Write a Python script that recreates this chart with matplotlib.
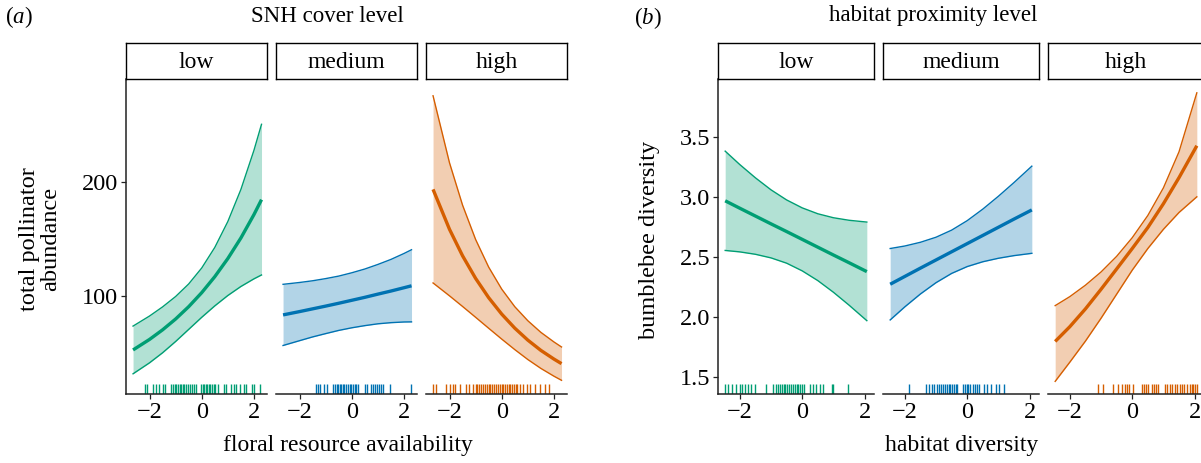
import matplotlib
matplotlib.use("Agg")
import matplotlib.pyplot as plt

plt.rcParams['font.family'] = ['Liberation Serif', 'DejaVu Serif']
plt.rcParams['mathtext.fontset'] = 'custom'
plt.rcParams['mathtext.it'] = 'Liberation Serif:italic'
plt.rcParams['mathtext.rm'] = 'Liberation Serif'

# ---------------- data ----------------
levels = ["low", "medium", "high"]
colors = ["#009E73", "#0072B2", "#D55E00"]

# panel (a): floral resource availability -> total pollinator abundance
xa = [-2.63, -2, -1.5, -1, -0.5, 0, 0.5, 1, 1.5, 2, 2.29]
a_low_mean = [52.6, 61.8, 70.2, 79.7, 90.5, 102.8, 116.8, 132.7, 150.7, 171.2, 184.3]
a_low_upper = [73.5, 82.3, 90.3, 99.4, 110.4, 124.4, 142.4, 165.1, 193.2, 227.5, 250.3]
a_low_lower = [31.7, 41.3, 50.1, 60.0, 70.6, 81.2, 91.2, 100.3, 108.2, 114.9, 118.3]
a_med_mean = [83.3, 86.2, 88.6, 91.0, 93.5, 96.1, 98.7, 101.5, 104.2, 107.1, 108.8]
a_med_upper = [110.1, 111.7, 113.2, 115.1, 117.3, 120.2, 123.5, 127.5, 131.9, 137.1, 140.4]
a_med_lower = [56.5, 60.7, 64.0, 66.9, 69.7, 72.0, 73.9, 75.5, 76.5, 77.1, 77.2]
a_high_mean = [193.3, 158.3, 135.1, 115.3, 98.4, 84.0, 71.7, 61.2, 52.2, 44.6, 40.6]
a_high_upper = [275.3, 216.6, 179.5, 149.4, 125.2, 105.9, 90.5, 78.2, 68.0, 59.6, 55.2]
a_high_lower = [111.3, 100.0, 90.7, 81.2, 71.6, 62.1, 52.9, 44.2, 36.4, 29.6, 26.0]

rug_a_low = [-2.18, -2.09, -1.88, -1.76, -1.63, -1.48, -1.41, -1.16, -1.1, -1.03, -0.97,
             -0.9, -0.84, -0.78, -0.72, -0.66, -0.6, -0.52, -0.45, -0.38, -0.3, -0.22,
             -0.01, 0.04, 0.1, 0.15, 0.2, 0.27, 0.33, 0.4, 0.46, 0.5, 0.62, 0.84, 0.94,
             1.11, 1.22, 1.33, 1.45, 1.6, 1.71, 1.94, 2.02, 2.24]
rug_a_med = [-1.37, -1.29, -1.2, -1.07, -0.93, -0.71, -0.64, -0.58, -0.52, -0.46, -0.4,
             -0.35, -0.28, -0.22, -0.15, -0.08, -0.02, 0.05, 0.12, 0.18, 0.24, 0.5, 0.6,
             0.75, 0.82, 0.9, 0.97, 1.05, 1.12, 1.2, 1.45, 2.28]
rug_a_high = [-2.65, -2.5, -2.12, -1.99, -1.87, -1.8, -1.61, -1.35, -1.25, -1.1, -1.0,
              -0.93, -0.86, -0.79, -0.72, -0.65, -0.58, -0.5, -0.43, -0.36, -0.3, -0.22,
              -0.15, -0.08, 0.0, 0.05, 0.12, 0.19, 0.26, 0.33, 0.4, 0.47, 0.54, 0.6, 0.69,
              0.82, 0.95, 1.07, 1.26, 1.46, 1.65, 1.8]

# panel (b): habitat diversity -> bumblebee diversity
xb = [-2.47, -2, -1.5, -1, -0.5, 0, 0.5, 1, 1.5, 2.07]
b_low_mean = [2.967, 2.905, 2.840, 2.775, 2.711, 2.646, 2.581, 2.516, 2.452, 2.378]
b_low_upper = [3.380, 3.268, 3.158, 3.058, 2.974, 2.908, 2.859, 2.826, 2.805, 2.790]
b_low_lower = [2.554, 2.542, 2.522, 2.492, 2.448, 2.384, 2.303, 2.206, 2.099, 1.970]
b_med_mean = [2.273, 2.338, 2.407, 2.475, 2.543, 2.611, 2.679, 2.747, 2.815, 2.891]
b_med_upper = [2.570, 2.591, 2.622, 2.664, 2.723, 2.802, 2.898, 3.005, 3.119, 3.255]
b_med_lower = [1.976, 2.085, 2.192, 2.286, 2.363, 2.420, 2.460, 2.489, 2.511, 2.530]
b_high_mean = [1.797, 1.920, 2.068, 2.231, 2.400, 2.570, 2.745, 2.943, 3.160, 3.425]
b_high_upper = [2.095, 2.17, 2.265, 2.375, 2.505, 2.66, 2.845, 3.075, 3.375, 3.865]
b_high_lower = [1.465, 1.625, 1.80, 1.99, 2.19, 2.39, 2.57, 2.73, 2.87, 3.0]

rug_b_low = [-2.49, -2.38, -2.24, -2.13, -2.0, -1.92, -1.83, -1.73, -1.65, -1.52, -1.16,
             -0.95, -0.84, -0.78, -0.72, -0.66, -0.6, -0.54, -0.48, -0.42, -0.36, -0.3,
             -0.24, -0.18, -0.12, -0.06, 0.0, 0.05, 0.24, 0.34, 0.45, 0.58, 0.67, 0.94,
             0.97, 1.47]
rug_b_med = [-1.87, -1.31, -1.22, -1.14, -1.07, -0.96, -0.9, -0.84, -0.78, -0.72, -0.66,
             -0.6, -0.54, -0.48, -0.42, -0.37, -0.32, -0.14, -0.08, -0.02, 0.04, 0.1,
             0.17, 0.24, 0.3, 0.37, 0.53, 0.64, 0.75, 0.91, 1.01, 1.17]
rug_b_high = [-1.11, -0.93, -0.61, -0.47, -0.34, -0.24, -0.17, -0.11, 0.03, 0.3, 0.37,
              0.44, 0.51, 0.62, 0.69, 0.76, 0.83, 1.04, 1.12, 1.2, 1.28, 1.36, 1.44,
              1.52, 1.6, 1.67, 1.74, 1.85, 1.9, 1.96, 2.02, 2.06]

a_yticks = [100, 200]
b_yticks = [1.5, 2.0, 2.5, 3.0, 3.5]
x_ticks = [-2, 0, 2]

# ---------------- figure ----------------
W, H = 1201, 463
fig = plt.figure(figsize=(W / 100, H / 100), dpi=100)

AX_COL = "#222222"


def px_axes(x0, y0, x1, y1, **kw):
    return fig.add_axes([x0 / W, 1 - y1 / H, (x1 - x0) / W, (y1 - y0) / H], **kw)


def ftext(x, y, s, **kw):
    fig.text(x / W, 1 - y / H, s, **kw)


def make_panel(x0, x1, top, bottom, xlim, ylim, first, yticks,
               x, mean, lo, up, rug, col, label):
    ax = px_axes(x0, top, x1, bottom)
    ax.fill_between(x, lo, up, color=col, alpha=0.3, linewidth=0)
    ax.plot(x, up, color=col, lw=1.0)
    ax.plot(x, lo, color=col, lw=1.0)
    ax.plot(x, mean, color=col, lw=2.4, solid_capstyle='butt')
    ax.vlines(rug, 0, 0.032, transform=ax.get_xaxis_transform(), color=col,
              lw=1.0, alpha=1.0)
    ax.set_xlim(*xlim)
    ax.set_ylim(*ylim)
    ax.set_xticks(x_ticks)
    ax.set_xticklabels([("\u2212" + str(abs(t))) if t < 0 else str(t) for t in x_ticks])
    for s in ["top", "right"]:
        ax.spines[s].set_visible(False)
    ax.spines["bottom"].set_color(AX_COL)
    ax.spines["bottom"].set_linewidth(1.1)
    if first:
        ax.spines["left"].set_color(AX_COL)
        ax.spines["left"].set_linewidth(1.1)
        ax.set_yticks(yticks)
        ax.set_yticklabels([f"{t:g}" if isinstance(t, int) else f"{t:.1f}" for t in yticks])
    else:
        ax.spines["left"].set_visible(False)
        ax.set_yticks([])
    ax.tick_params(axis="both", colors=AX_COL, labelcolor="black", length=3.5,
                   width=0.9, labelsize=17.5, pad=2)
    ax.patch.set_alpha(0)
    # strip
    sax = px_axes(x0, top - 36, x1, top)
    sax.set_xticks([])
    sax.set_yticks([])
    for s in sax.spines.values():
        s.set_color("black")
        s.set_linewidth(1.0)
    sax.text(0.5, 0.45, label, ha="center", va="center", fontsize=17,
             transform=sax.transAxes)
    return ax


TOP, BOTTOM = 79, 394

# panel (a)
a_x = [(126, 267), (276, 417), (426, 567)]
a_means = [a_low_mean, a_med_mean, a_high_mean]
a_lows = [a_low_lower, a_med_lower, a_high_lower]
a_ups = [a_low_upper, a_med_upper, a_high_upper]
a_rugs = [rug_a_low, rug_a_med, rug_a_high]
for i in range(3):
    make_panel(a_x[i][0], a_x[i][1], TOP, BOTTOM, (-2.9, 2.5), (14, 290), i == 0,
               a_yticks, xa, a_means[i], a_lows[i], a_ups[i], a_rugs[i],
               colors[i], levels[i])

# panel (b)
b_x = [(718, 874), (883, 1039), (1048, 1204)]
b_means = [b_low_mean, b_med_mean, b_high_mean]
b_lows = [b_low_lower, b_med_lower, b_high_lower]
b_ups = [b_low_upper, b_med_upper, b_high_upper]
b_rugs = [rug_b_low, rug_b_med, rug_b_high]
for i in range(3):
    make_panel(b_x[i][0], b_x[i][1], TOP, BOTTOM, (-2.70, 2.30), (1.36, 3.98), i == 0,
               b_yticks, xb, b_means[i], b_lows[i], b_ups[i], b_rugs[i],
               colors[i], levels[i])

# texts
ftext(19, 17, "($\\mathit{a}$)", ha="center", va="center", fontsize=16.5)
ftext(327, 17, "SNH cover level", ha="center", va="center", fontsize=16.5)
ftext(648, 18, "($\\mathit{b}$)", ha="center", va="center", fontsize=16.5)
ftext(933, 15, "habitat proximity level", ha="center", va="center", fontsize=16.5)

ftext(40, 239, "total pollinator\nabundance", ha="center", va="center", fontsize=17.5,
      rotation=90, linespacing=1.05)
ftext(650, 240, "bumblebee diversity", ha="center", va="center", fontsize=17.5,
      rotation=90)
ftext(348, 446, "floral resource availability", ha="center", va="center", fontsize=17)
ftext(962, 446, "habitat diversity", ha="center", va="center", fontsize=17)

fig.savefig("out.png", dpi=100)
